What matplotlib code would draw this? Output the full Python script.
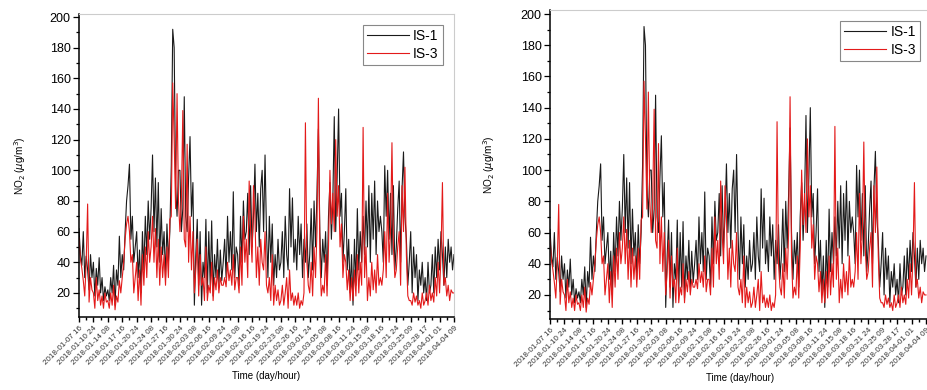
import numpy as np
import matplotlib
matplotlib.use("Agg")
import matplotlib.pyplot as plt
from matplotlib.ticker import MultipleLocator

plt.rcParams['font.family'] = ['Liberation Sans', 'DejaVu Sans']

# hourly index (every 8 h sampled), 2018-01-07 16 .. 2018-04-04 09
hours = np.arange(0, 2081, 8)

is1 = [62, 45, 38, 60, 30, 44, 35, 22, 45, 30,
       40, 18, 36, 25, 43, 20, 30, 15, 24, 18,
       22, 15, 30, 20, 38, 12, 35, 25, 57, 30,
       45, 35, 60, 80, 90, 104, 55, 70, 40, 50,
       60, 30, 48, 20, 60, 35, 70, 45, 80, 55,
       75, 110, 60, 95, 50, 92, 40, 75, 45, 60,
       30, 65, 40, 60, 103, 192, 180, 90, 70, 100,
       100, 60, 75, 148, 70, 60, 95, 122, 70, 92,
       12, 45, 68, 25, 60, 12, 40, 30, 68, 20,
       60, 25, 67, 18, 45, 30, 55, 25, 48, 28,
       40, 55, 30, 70, 40, 60, 35, 86, 30, 50,
       45, 25, 70, 40, 80, 55, 60, 85, 45, 90,
       50, 70, 104, 60, 85, 50, 88, 100, 60, 110,
       60, 30, 70, 40, 65, 25, 45, 30, 55, 35,
       40, 60, 30, 70, 45, 35, 88, 50, 82, 40,
       55, 35, 70, 45, 65, 30, 55, 40, 65, 30,
       45, 75, 35, 80, 50, 85, 127, 60, 30, 55,
       40, 60, 25, 70, 92, 55, 80, 135, 60, 95,
       140, 70, 85, 40, 60, 88, 35, 55, 20, 45,
       12, 55, 25, 75, 35, 60, 40, 70, 45, 80,
       50, 90, 40, 85, 55, 93, 45, 80, 60, 70,
       60, 40, 103, 70, 100, 55, 85, 45, 90, 35,
       50, 75, 93, 40, 88, 112, 70, 55, 25, 40,
       60, 20, 50, 30, 45, 15, 35, 25, 40, 20,
       30, 15, 40, 20, 25, 45, 20, 50, 30, 55,
       35, 60, 45, 25, 50, 30, 55, 40, 50, 35,
       45]

is3 = [56, 42, 36, 28, 18, 40, 78, 14, 30, 22,
       20, 10, 30, 15, 22, 12, 18, 10, 20, 14,
       15, 10, 20, 12, 25, 9, 18, 14, 28, 20,
       30, 40, 55, 65, 70, 60, 40, 45, 20, 30,
       40, 15, 35, 12, 45, 25, 50, 30, 60, 40,
       50, 70, 40, 62, 30, 55, 25, 50, 30, 45,
       25, 50, 30, 68, 70, 157, 120, 75, 150, 80,
       60, 80, 139, 55, 50, 117, 40, 70, 35, 60,
       20, 35, 55, 18, 45, 25, 30, 15, 50, 15,
       25, 20, 40, 15, 30, 22, 35, 20, 30, 25,
       25, 30, 24, 40, 28, 35, 25, 45, 22, 30,
       30, 20, 50, 25, 70, 40, 55, 30, 93, 60,
       40, 90, 70, 30, 50, 25, 55, 40, 35, 60,
       25, 20, 30, 15, 45, 12, 25, 15, 22, 12,
       15, 25, 12, 20, 30, 10, 35, 15, 20, 12,
       18, 12, 20, 10, 15, 12, 20, 131, 40, 25,
       20, 40, 18, 50, 30, 60, 147, 45, 18, 25,
       20, 45, 18, 50, 100, 65, 85, 60, 120, 70,
       90, 50, 65, 30, 45, 40, 22, 35, 15, 30,
       15, 35, 18, 45, 20, 40, 25, 128, 30, 50,
       15, 30, 18, 40, 22, 35, 20, 45, 25, 30,
       25, 35, 60, 30, 85, 40, 60, 118, 50, 30,
       35, 50, 60, 25, 90, 60, 102, 45, 18, 15,
       15, 12, 20, 14, 18, 12, 15, 10, 20, 12,
       15, 20, 12, 25, 15, 20, 14, 30, 18, 40,
       20, 45, 92, 25, 30, 18, 25, 15, 22, 20,
       20]

tick_labels = ['2018-01-07 16', '2018-01-10 24', '2018-01-14 08', '2018-01-17 16',
               '2018-01-20 24', '2018-01-24 08', '2018-01-27 16', '2018-01-30 24',
               '2018-02-03 08', '2018-02-06 16', '2018-02-09 24', '2018-02-13 08',
               '2018-02-16 16', '2018-02-19 24', '2018-02-23 08', '2018-02-26 16',
               '2018-03-01 24', '2018-03-05 08', '2018-03-08 16', '2018-03-11 24',
               '2018-03-15 08', '2018-03-18 16', '2018-03-21 24', '2018-03-25 09',
               '2018-03-28 17', '2018-04-01 01', '2018-04-04 09']
tick_pos = np.arange(len(tick_labels)) * 80


def draw_panel(ax, xmax, ymin, ymax, ylab_x):
    ax.plot(hours, is1, color='#1a1a1a', lw=0.8, label='IS-1')
    ax.plot(hours, is3, color='#e31a1a', lw=0.8, label='IS-3')
    ax.set_xlim(0, xmax)
    ax.set_ylim(ymin, ymax)
    ax.set_xticks(tick_pos)
    ax.set_xticklabels(tick_labels, rotation=45, ha='right', rotation_mode='anchor',
                       fontsize=5.8, color='#333333')
    ax.xaxis.set_minor_locator(MultipleLocator(40))
    ax.set_yticks(np.arange(20, 201, 20))
    ax.yaxis.set_minor_locator(MultipleLocator(10))
    ax.tick_params(axis='y', labelsize=9, length=4, width=0.9, pad=2)
    ax.tick_params(axis='y', which='minor', length=2.2, width=0.9)
    ax.tick_params(axis='x', length=3.5, width=1.0, pad=2)
    ax.tick_params(axis='x', which='minor', length=2.2, width=1.0)
    for s in ['top', 'right']:
        ax.spines[s].set_color('#cccccc')
    for s in ['left', 'bottom']:
        ax.spines[s].set_linewidth(1.1)
    ax.set_ylabel('NO$_2$ ($\\mu$g/m$^3$)', fontsize=7.2)
    ax.yaxis.set_label_coords(ylab_x, 0.5)
    ax.set_xlabel('Time (day/hour)', fontsize=7, labelpad=3)
    leg = ax.legend(loc='upper right', fontsize=10, handlelength=3.0, handletextpad=0.3,
                    borderpad=0.3, labelspacing=0.25, fancybox=False, framealpha=1,
                    borderaxespad=0.8)
    leg.get_frame().set_edgecolor('#888888')
    leg.get_frame().set_linewidth(0.8)


fig = plt.figure(figsize=(9.28, 3.9), dpi=100)
ax1 = fig.add_axes([0.0851, 0.1872, 0.4041, 0.777])
draw_panel(ax1, 2080, 4.3, 202, -0.135)
ax2 = fig.add_axes([0.5927, 0.1821, 0.4106, 0.7923])
draw_panel(ax2, 2108, 4.6, 202.6, -0.14)

fig.savefig('out.png', dpi=100)
